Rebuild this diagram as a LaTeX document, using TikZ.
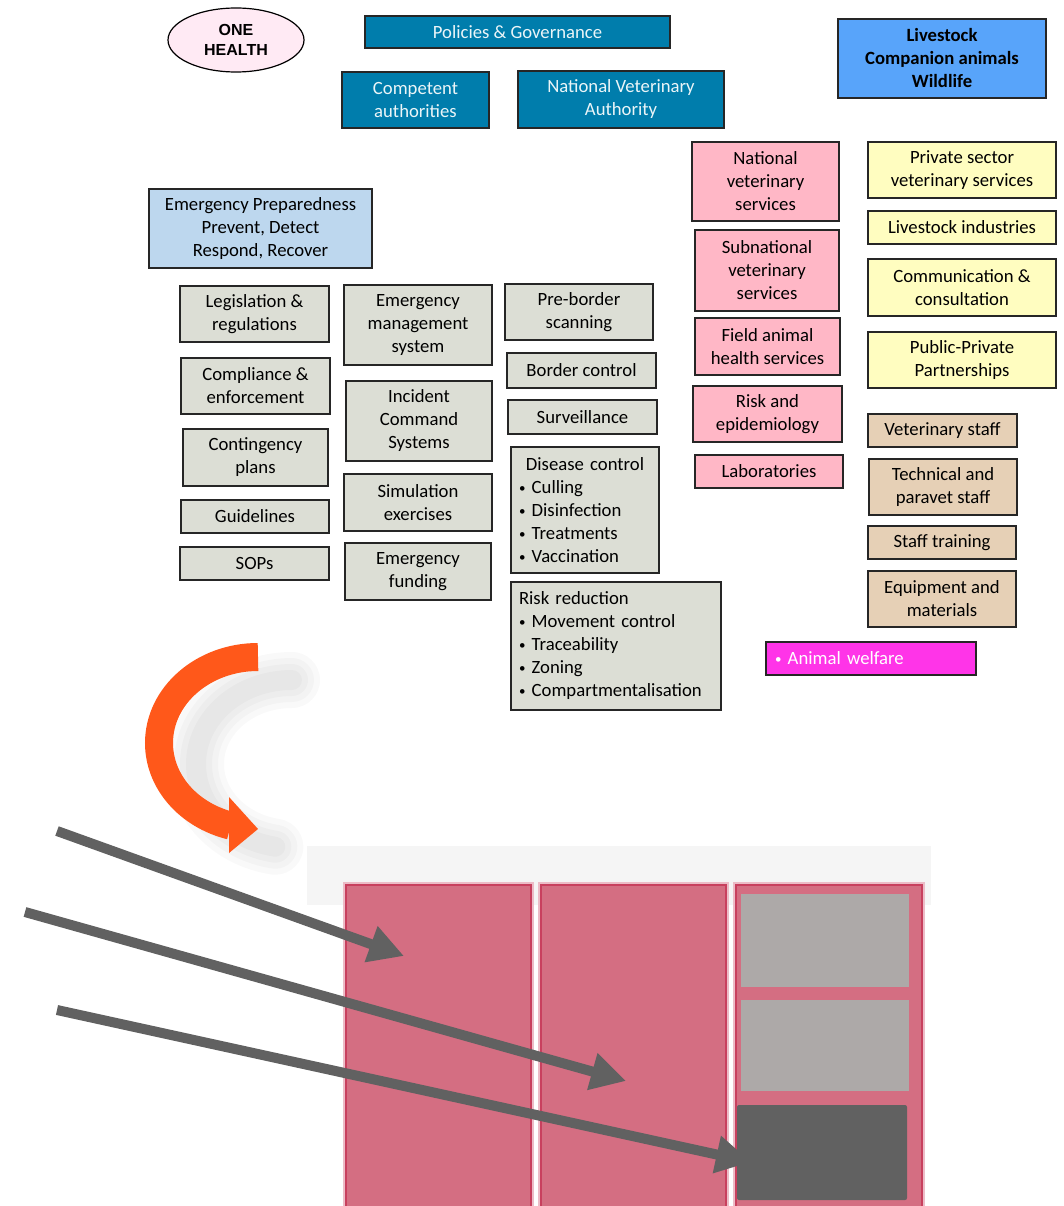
\documentclass[tikz,border=0pt]{standalone}
\usepackage{fontspec}
\setmainfont{Carlito}
\newfontfamily\headfont{Liberation Sans}
\usetikzlibrary{shapes.geometric, arrows.meta}
\definecolor{govblue}{RGB}{0,125,172}
\definecolor{animalblue}{RGB}{88,164,250}
\definecolor{prepblue}{RGB}{189,215,238}
\definecolor{emgrey}{RGB}{220,222,213}
\definecolor{vetpink}{RGB}{255,183,198}
\definecolor{privyellow}{RGB}{255,253,192}
\definecolor{stafftan}{RGB}{230,208,182}
\definecolor{welfare}{RGB}{255,52,232}
\definecolor{ohpink}{RGB}{255,234,244}
\definecolor{turnorange}{RGB}{255,88,26}
\definecolor{panelrose}{RGB}{212,110,130}
\definecolor{paneledge}{RGB}{200,64,94}
\definecolor{slotgrey}{RGB}{173,169,168}
\definecolor{arrowgrey}{RGB}{97,97,97}
\newcommand{\listdot}{\raisebox{1.2pt}{\fontsize{13}{13}\selectfont•}}

\begin{document}
\begin{tikzpicture}[x=1pt, y=-1pt,
    box/.style={draw=black!85, line width=1.2pt, align=center, inner sep=2pt,
        font=\fontsize{18.7}{23}\selectfont},
    gov/.style={box, fill=govblue, text=white!92!govblue},
    prep/.style={box, fill=prepblue},
    emerg/.style={box, fill=emgrey},
    listbox/.style={box, fill=emgrey, align=left, inner xsep=8pt},
    vet/.style={box, fill=vetpink},
    priv/.style={box, fill=privyellow},
    staff/.style={box, fill=stafftan},
    haze/.style={black, opacity=0.025, line cap=round},
    panel/.style={fill=panelrose, draw=paneledge, line width=2.5pt,
        preaction={draw=paneledge!35, line width=6pt}},
    feed/.style={arrowgrey, line width=10pt, -{Triangle[length=35pt, width=36pt]}}]

    \useasboundingbox (0,0) rectangle (1064,1206);

    % One Health and governance
    \node[draw=black, line width=1.2pt, ellipse, fill=ohpink, minimum width=136pt, minimum height=64pt,
        align=center, font=\headfont\bfseries\fontsize{16}{20}\selectfont] (onehealth) at (236,40) {ONE\\HEALTH};
    \node[gov, minimum width=305pt, minimum height=32pt] (policies) at (517.5,32) {Policies \& Governance};
    \node[gov, minimum width=147pt, minimum height=56pt] (competent) at (415.5,100) {Competent\\authorities};
    \node[gov, minimum width=206pt, minimum height=57pt] (nva) at (621,99.5) {National Veterinary\\Authority};
    \node[box, fill=animalblue, minimum width=208pt, minimum height=79pt, font=\bfseries\fontsize{18.7}{23}\selectfont]
        (animals) at (942,58.5) {Livestock\\Companion animals\\Wildlife};

    % Emergency preparedness
    \node[prep, minimum width=223pt, minimum height=79pt] (prepare) at (260.5,228.5)
        {Emergency Preparedness\\Prevent, Detect\\Respond, Recover};

    % Column 1
    \node[emerg, minimum width=149pt, minimum height=56pt] (legislation) at (254.5,314) {Legislation \&\\regulations};
    \node[emerg, minimum width=149pt, minimum height=56pt] (compliance) at (255.5,386) {Compliance \&\\enforcement};
    \node[emerg, minimum width=145pt, minimum height=57pt] (contingency) at (255.5,457.5) {Contingency\\plans};
    \node[emerg, minimum width=148pt, minimum height=33pt] (guidelines) at (255,516.5) {Guidelines};
    \node[emerg, minimum width=149pt, minimum height=33pt] (sops) at (254.5,563.5) {SOPs};

    % Column 2
    \node[emerg, minimum width=148pt, minimum height=80pt] (ems) at (418,325) {Emergency\\management\\system};
    \node[emerg, minimum width=146pt, minimum height=80pt] (ics) at (419,421) {Incident\\Command\\Systems};
    \node[emerg, minimum width=148pt, minimum height=57pt] (simulation) at (418,502.5) {Simulation\\exercises};
    \node[emerg, minimum width=146pt, minimum height=57pt] (funding) at (418,571.5) {Emergency\\funding};

    % Column 3
    \node[emerg, minimum width=148pt, minimum height=56pt] (preborder) at (579,312) {Pre-border\\scanning};
    \node[emerg, minimum width=149pt, minimum height=35pt] (border) at (581.5,370.5) {Border control};
    \node[emerg, minimum width=149pt, minimum height=34pt] (surveillance) at (582.5,417) {Surveillance};
    \node[listbox, text width=132pt, minimum height=126pt] (disease) at (585,510)
        {\makebox[\linewidth]{Disease control}\\\listdot\ Culling\\\listdot\ Disinfection\\\listdot\ Treatments\\\listdot\ Vaccination};
    \node[listbox, text width=194pt, minimum height=128pt] (riskred) at (616,646)
        {Risk reduction\\\listdot\ Movement control\\\listdot\ Traceability\\\listdot\ Zoning\\\listdot\ Compartmentalisation};

    % Veterinary services
    \node[vet, minimum width=147pt, minimum height=79pt] (nvs) at (765.5,181.5) {National\\veterinary\\services};
    \node[vet, minimum width=144pt, minimum height=81pt] (subnvs) at (767,270.5) {Subnational\\veterinary\\services};
    \node[vet, minimum width=145pt, minimum height=57pt] (field) at (767.5,346.5) {Field animal\\health services};
    \node[vet, minimum width=149pt, minimum height=56pt] (riskepi) at (767.5,414) {Risk and\\epidemiology};
    \node[vet, minimum width=148pt, minimum height=33pt] (labs) at (769,471.5) {Laboratories};

    % Private sector
    \node[priv, minimum width=188pt, minimum height=56pt] (private) at (962,170) {Private sector\\veterinary services};
    \node[priv, minimum width=188pt, minimum height=33pt] (industries) at (962,227.5) {Livestock industries};
    \node[priv, minimum width=188pt, minimum height=57pt] (communication) at (962,287.5) {Communication \&\\consultation};
    \node[priv, minimum width=188pt, minimum height=56pt] (ppp) at (962,360) {Public-Private\\Partnerships};

    % Staff and resources
    \node[staff, minimum width=149pt, minimum height=33pt] (vetstaff) at (942.5,430.5) {Veterinary staff};
    \node[staff, minimum width=148pt, minimum height=56pt] (paravet) at (943,487) {Technical and\\paravet staff};
    \node[staff, minimum width=148pt, minimum height=33pt] (training) at (942,542.5) {Staff training};
    \node[staff, minimum width=148pt, minimum height=56pt] (equipment) at (942,599) {Equipment and\\materials};

    % Animal welfare
    \node[box, fill=welfare, text=white, align=left, text width=192pt, inner xsep=9pt, minimum height=33pt]
        (welfare) at (871,658.5) {\listdot\ Animal welfare};

    % Turning arrow (with soft shadow)
    \draw[haze, line width=56pt] (292,680) arc[start angle=270, end angle=100, x radius=96, y radius=84];
    \draw[haze, line width=44pt] (292,680) arc[start angle=270, end angle=100, x radius=96, y radius=84];
    \draw[haze, line width=32pt] (292,680) arc[start angle=270, end angle=100, x radius=96, y radius=84];
    \draw[haze, line width=20pt] (292,680) arc[start angle=270, end angle=100, x radius=96, y radius=84];
    \draw[turnorange, line width=28pt] (258,657) arc[start angle=270, end angle=106, x radius=99, y radius=86];
    \fill[turnorange] (229,797) -- (258,829) -- (229,853) -- cycle;

    % Bottom panels
    \fill[black!4] (307,846) rectangle (931,905);
    \draw[panel] (346,885) rectangle (531,1215);
    \draw[panel] (541,885) rectangle (726,1215);
    \draw[panel] (736,885) rectangle (922,1215);
    \fill[slotgrey] (741,894) rectangle (909,987);
    \fill[slotgrey] (741,1000) rectangle (909,1091);

    % Feed arrows
    \coordinate (from1) at (57,831);
    \coordinate (into1) at (404,956);
    \coordinate (from2) at (25,912);
    \coordinate (into2) at (626,1081);
    \coordinate (from3) at (57,1010);
    \coordinate (into3) at (751,1162);
    \draw[feed] (from1) -- (into1);
    \draw[feed] (from2) -- (into2);
    \draw[feed] (from3) -- (into3);
    \fill[arrowgrey, rounded corners=2pt] (737,1105) rectangle (907,1200);
\end{tikzpicture}
\end{document}
